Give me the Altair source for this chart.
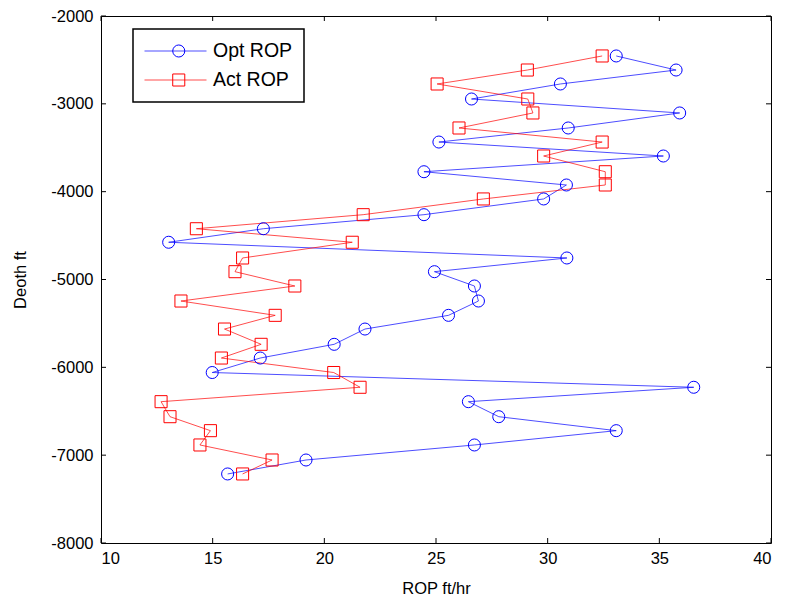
import altair as alt
import pandas as pd

# ---- data ----
depth = [-2455, -2615, -2774, -2945, -3104, -3275, -3435, -3594, -3773, -3924,
         -4083, -4262, -4422, -4576, -4755, -4911, -5074, -5245, -5408, -5564,
         -5738, -5894, -6059, -6227, -6391, -6562, -6721, -6884, -7055, -7214]
opt_rop = [33.07, 35.75, 30.57, 26.59, 35.91, 30.92, 25.13, 35.18, 24.46, 30.84,
           29.82, 24.46, 17.27, 13.03, 30.86, 24.93, 26.72, 26.90, 25.56, 21.82,
           20.44, 17.13, 14.98, 36.54, 26.45, 27.81, 33.07, 26.72, 19.18, 15.67]
act_rop = [32.44, 29.09, 25.05, 29.11, 29.34, 26.03, 32.44, 29.82, 32.58, 32.58,
           27.12, 21.74, 14.27, 21.25, 16.34, 16.00, 18.68, 13.58, 17.80, 15.53,
           17.17, 15.39, 20.42, 21.60, 12.69, 13.09, 14.90, 14.43, 17.66, 16.34]

series_names = ["Opt ROP", "Act ROP"]
series_colors = ["#0000ff", "#ff0000"]
series_shapes = ["circle", "square"]

x_ticks = [10, 15, 20, 25, 30, 35, 40]
y_ticks = [-8000, -7000, -6000, -5000, -4000, -3000, -2000]

# ---- layout ----
W, H = 670, 527
FONT = "Liberation Sans"

rows = []
for name, vals in zip(series_names, [opt_rop, act_rop]):
    for i, (d, r) in enumerate(zip(depth, vals)):
        rows.append({"series": name, "marker_series": name, "idx": i,
                     "depth": d, "rop": r})
df = pd.DataFrame(rows)

xscale = alt.Scale(domain=[10, 40], nice=False, zero=False)
yscale = alt.Scale(domain=[-8000, -2000], nice=False, zero=False)
x_axis = alt.Axis(values=x_ticks, title="ROP ft/hr", labelExpr="'' + datum.value")
y_axis = alt.Axis(values=y_ticks, title="Deoth ft", labelExpr="'' + datum.value")


def X(field):
    return alt.X(field, scale=xscale, axis=x_axis)


def Y(field):
    return alt.Y(field, scale=yscale, axis=y_axis)


LEG_X, LEG_Y, LEG_PAD, ROW_H = 32, 13, 11, 22
line_legend = alt.Legend(
    title=None, orient="none", legendX=LEG_X, legendY=LEG_Y,
    symbolType="M-1,0L1,0", symbolSize=3844, symbolStrokeWidth=0.7,
    strokeColor="black", fillColor="white", clipHeight=ROW_H,
    padding=LEG_PAD, rowPadding=7, labelFontSize=19.5, labelFont=FONT,
    labelColor="black", labelOffset=6, labelLimit=300,
)
marker_legend = alt.Legend(
    title=None, orient="none", legendX=LEG_X + 25, legendY=LEG_Y,
    symbolStrokeWidth=1, symbolSize=145, clipHeight=ROW_H,
    padding=LEG_PAD, rowPadding=7, labelFontSize=19.5, labelFont=FONT,
    labelExpr="''", labelOffset=0, zindex=1,
)

base = alt.Chart(df)

lines = base.mark_line(strokeWidth=0.7).encode(
    x=X("rop:Q"), y=Y("depth:Q"),
    color=alt.Color("series:N",
                    scale=alt.Scale(domain=series_names, range=series_colors),
                    legend=line_legend),
    order=alt.Order("idx:Q"),
)

points = base.mark_point(size=145, strokeWidth=1, filled=False, opacity=1).encode(
    x=X("rop:Q"), y=Y("depth:Q"),
    color=alt.Color("marker_series:N",
                    scale=alt.Scale(domain=series_names, range=series_colors),
                    legend=marker_legend),
    shape=alt.Shape("marker_series:N",
                    scale=alt.Scale(domain=series_names, range=series_shapes),
                    legend=marker_legend),
)

xt = alt.Chart(pd.DataFrame({"v": x_ticks}))
yt = alt.Chart(pd.DataFrame({"v": y_ticks}))
tick_len = 5
bottom_ticks = xt.mark_rule(color="black", strokeWidth=1).encode(
    x=X("v:Q"), y=alt.value(H), y2=alt.value(H - tick_len))
top_ticks = xt.mark_rule(color="black", strokeWidth=1).encode(
    x=X("v:Q"), y=alt.value(0), y2=alt.value(tick_len))
left_ticks = yt.mark_rule(color="black", strokeWidth=1).encode(
    y=Y("v:Q"), x=alt.value(0), x2=alt.value(tick_len))
right_ticks = yt.mark_rule(color="black", strokeWidth=1).encode(
    y=Y("v:Q"), x=alt.value(W), x2=alt.value(W - tick_len))

chart = (
    alt.layer(lines, points, bottom_ticks, top_ticks, left_ticks, right_ticks)
    .resolve_scale(color="independent", shape="independent")
    .properties(
        width=W, height=H,
        padding={"left": 101, "top": 16, "right": 785 - 101 - W, "bottom": 600 - 16 - H},
        autosize=alt.AutoSizeParams(type="none"),
        background="white",
    )
    .configure_view(stroke="black", strokeWidth=1)
    .configure_legend(strokeWidth=1.5)
    .configure_axis(
        grid=False, ticks=False, tickSize=0, domain=False,
        labelFont=FONT, labelFontSize=16.5, labelColor="black",
        titleFont=FONT, titleFontSize=16.5, titleFontWeight="normal", titleColor="black",
    )
    .configure_axisX(labelPadding=7, titlePadding=14)
    .configure_axisY(labelPadding=8, titlePadding=22)
)

chart.save("out.html", embed_options={"renderer": "svg", "actions": False})
